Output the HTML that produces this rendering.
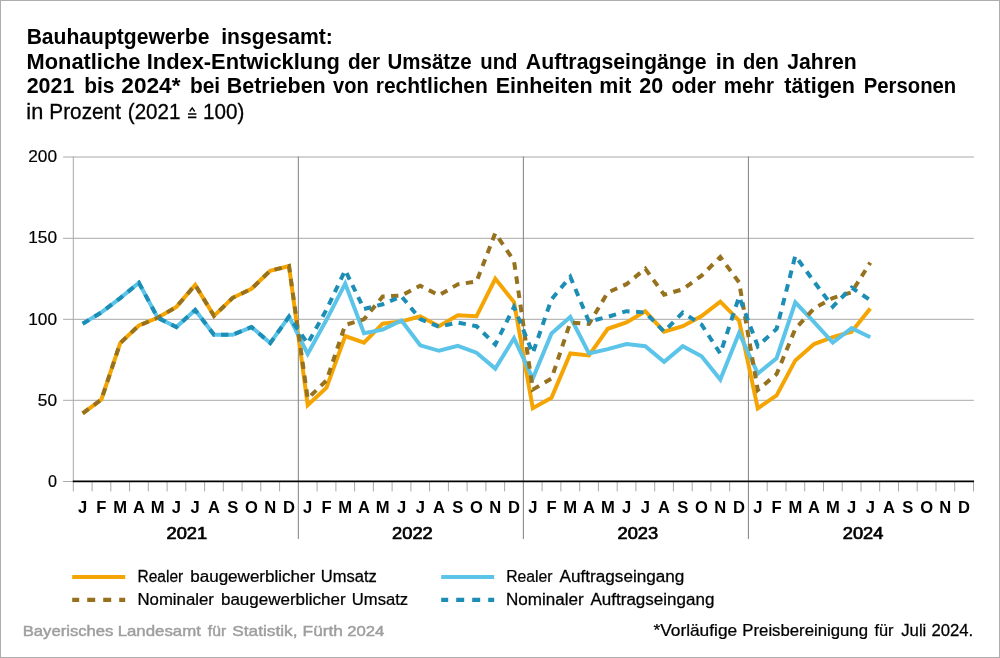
<!DOCTYPE html>
<html><head><meta charset="utf-8"><title>Bauhauptgewerbe</title>
<style>
html,body{margin:0;padding:0;background:#fff;}
body{width:1000px;height:658px;overflow:hidden;font-family:"Liberation Sans",sans-serif;}
svg{display:block;}
text{font-family:"Liberation Sans",sans-serif;}
text{filter:grayscale(1);}
.b{font-weight:bold;}
</style></head><body>
<svg width="1000" height="658" viewBox="0 0 1000 658">
<rect x="0" y="0" width="1000" height="658" fill="#fff"/>
<rect x="0.5" y="0.5" width="999" height="657" fill="none" stroke="#adadad" stroke-width="1"/>

<g font-size="21.8" font-weight="bold" >
<text transform="translate(26.63,43.7) scale(0.9680,1)">Bauhauptgewerbe</text>
<text transform="translate(221.23,43.7) scale(0.9709,1)">insgesamt:</text>
</g>
<g font-size="21.8" font-weight="bold" >
<text transform="translate(26.59,68.5) scale(1.0011,1)">Monatliche</text>
<text transform="translate(146.69,68.5) scale(1.0042,1)">Index-Entwicklung</text>
<text transform="translate(347.92,68.5) scale(0.9512,1)">der</text>
<text transform="translate(387.52,68.5) scale(0.9398,1)">Umsätze</text>
<text transform="translate(480.28,68.5) scale(0.9313,1)">und</text>
<text transform="translate(525.82,68.5) scale(0.9766,1)">Auftragseingänge</text>
<text transform="translate(715.69,68.5) scale(1.0007,1)">in</text>
<text transform="translate(742.94,68.5) scale(0.9232,1)">den</text>
<text transform="translate(787.29,68.5) scale(0.9722,1)">Jahren</text>
</g>
<g font-size="21.8" font-weight="bold" >
<text transform="translate(26.66,93.2) scale(0.9826,1)">2021</text>
<text transform="translate(84.24,93.2) scale(0.9609,1)">bis</text>
<text transform="translate(121.32,93.2) scale(1.0383,1)">2024*</text>
<text transform="translate(190.00,93.2) scale(0.9578,1)">bei</text>
<text transform="translate(226.71,93.2) scale(0.9856,1)">Betrieben</text>
<text transform="translate(333.00,93.2) scale(0.9217,1)">von</text>
<text transform="translate(375.74,93.2) scale(0.9633,1)">rechtlichen</text>
<text transform="translate(495.71,93.2) scale(0.9872,1)">Einheiten</text>
<text transform="translate(599.22,93.2) scale(0.9816,1)">mit</text>
<text transform="translate(639.35,93.2) scale(0.9866,1)">20</text>
<text transform="translate(671.38,93.2) scale(0.9485,1)">oder</text>
<text transform="translate(723.77,93.2) scale(0.9411,1)">mehr</text>
<text transform="translate(784.28,93.2) scale(0.9905,1)">tätigen</text>
<text transform="translate(863.78,93.2) scale(0.9306,1)">Personen</text>
</g>
<g font-size="21.4" font-weight="normal" stroke="#000" stroke-width="0.3">
<text transform="translate(26.30,119.1) scale(1.0162,1)">in</text>
<text transform="translate(49.34,119.1) scale(0.9711,1)">Prozent</text>
<text transform="translate(127.76,119.1) scale(0.9645,1)">(2021</text>
<text transform="translate(202.95,119.1) scale(0.9652,1)">100)</text>
</g>
<g font-size="15.6" font-weight="normal" stroke="#000" stroke-width="0.25">
<text transform="translate(137.51,581.8) scale(0.9943,1)">Realer</text>
<text transform="translate(190.23,581.8) scale(1.0919,1)">baugewerblicher</text>
<text transform="translate(320.84,581.8) scale(1.0605,1)">Umsatz</text>
</g>
<g font-size="15.6" font-weight="normal" stroke="#000" stroke-width="0.25">
<text transform="translate(137.41,604.6) scale(1.0770,1)">Nominaler</text>
<text transform="translate(220.98,604.6) scale(1.0897,1)">baugewerblicher</text>
<text transform="translate(351.84,604.6) scale(1.0654,1)">Umsatz</text>
</g>
<g font-size="15.6" font-weight="normal" stroke="#000" stroke-width="0.25">
<text transform="translate(506.14,581.8) scale(1.0112,1)">Realer</text>
<text transform="translate(559.60,581.8) scale(1.0990,1)">Auftragseingang</text>
</g>
<g font-size="15.6" font-weight="normal" stroke="#000" stroke-width="0.25">
<text transform="translate(506.03,604.6) scale(1.0942,1)">Nominaler</text>
<text transform="translate(590.50,604.6) scale(1.0910,1)">Auftragseingang</text>
</g>
<g font-size="15.7" font-weight="normal" stroke="#000" stroke-width="0.25">
<text transform="translate(653.43,635.9) scale(1.1035,1)">*Vorläufige</text>
<text transform="translate(742.36,635.9) scale(1.0667,1)">Preisbereinigung</text>
<text transform="translate(874.44,635.9) scale(1.0412,1)">für</text>
<text transform="translate(901.23,635.9) scale(1.0658,1)">Juli</text>
<text transform="translate(931.46,635.9) scale(1.0640,1)">2024.</text>
</g>
<g font-size="14.6" font-weight="normal" style="fill:#9e9e9e" stroke="#9e9e9e" stroke-width="0.45">
<text transform="translate(22.67,635.9) scale(1.1422,1)">Bayerisches</text>
<text transform="translate(117.65,635.9) scale(1.1533,1)">Landesamt</text>
<text transform="translate(207.84,635.9) scale(1.0777,1)">für</text>
<text transform="translate(232.31,635.9) scale(1.1819,1)">Statistik,</text>
<text transform="translate(302.62,635.9) scale(1.1842,1)">Fürth</text>
<text transform="translate(347.16,635.9) scale(1.1477,1)">2024</text>
</g>
<g stroke="#000" stroke-width="1.7" fill="none"><path d="M188 114.0H196.4M188 117.4H196.4"/><path d="M189.7 111.5L192.2 107.9L194.7 111.5" stroke-width="1.4"/></g>
<g stroke="#a8a8a8" stroke-width="1" fill="none">
<path d="M63.1 157.0H973.9"/>
<path d="M63.1 238.3H973.9"/>
<path d="M63.1 319.3H973.9"/>
<path d="M63.1 400.3H973.9"/>
<path d="M63.1 481.5H74"/>
<path d="M73.3 156.5V491.4"/>
<path d="M973.5 481.5V491.4"/>
</g>
<g stroke="#8c8c8c" stroke-width="1.1" fill="none">
<path d="M298.35 156.5V539"/>
<path d="M523.40 156.5V539"/>
<path d="M748.45 156.5V539"/>
</g>
<g stroke="#a8a8a8" stroke-width="1" fill="none"><path d="
M92.1 481.5V491.4
M110.8 481.5V491.4
M129.6 481.5V491.4
M148.3 481.5V491.4
M167.1 481.5V491.4
M185.8 481.5V491.4
M204.6 481.5V491.4
M223.3 481.5V491.4
M242.1 481.5V491.4
M260.8 481.5V491.4
M279.6 481.5V491.4
M317.1 481.5V491.4
M335.9 481.5V491.4
M354.6 481.5V491.4
M373.4 481.5V491.4
M392.1 481.5V491.4
M410.9 481.5V491.4
M429.6 481.5V491.4
M448.4 481.5V491.4
M467.1 481.5V491.4
M485.9 481.5V491.4
M504.6 481.5V491.4
M542.1 481.5V491.4
M560.9 481.5V491.4
M579.7 481.5V491.4
M598.4 481.5V491.4
M617.2 481.5V491.4
M635.9 481.5V491.4
M654.7 481.5V491.4
M673.4 481.5V491.4
M692.2 481.5V491.4
M710.9 481.5V491.4
M729.7 481.5V491.4
M767.2 481.5V491.4
M786.0 481.5V491.4
M804.7 481.5V491.4
M823.5 481.5V491.4
M842.2 481.5V491.4
M861.0 481.5V491.4
M879.7 481.5V491.4
M898.5 481.5V491.4
M917.2 481.5V491.4
M936.0 481.5V491.4
M954.7 481.5V491.4
"/></g>
<path d="M72.8 481.4H974" stroke="#000" stroke-width="1.6" fill="none"/>
<g font-size="16.2" stroke="#000" stroke-width="0.2">
<text x="28.2" y="162" textLength="28.8" lengthAdjust="spacingAndGlyphs">200</text>
<text x="28.2" y="243" textLength="28.8" lengthAdjust="spacingAndGlyphs">150</text>
<text x="28.2" y="325" textLength="28.8" lengthAdjust="spacingAndGlyphs">100</text>
<text x="37.8" y="406" textLength="19.2" lengthAdjust="spacingAndGlyphs">50</text>
<text x="48.0" y="487" textLength="9.0" lengthAdjust="spacingAndGlyphs">0</text>
</g>
<g class="b" font-size="15.8" text-anchor="middle">
<g transform="scale(1.05,1)">
<text x="78.74" y="512.8">J</text>
<text x="96.60" y="512.8">F</text>
<text x="114.46" y="512.8">M</text>
<text x="132.32" y="512.8">A</text>
<text x="150.18" y="512.8">M</text>
<text x="168.04" y="512.8">J</text>
<text x="185.91" y="512.8">J</text>
<text x="203.77" y="512.8">A</text>
<text x="221.63" y="512.8">S</text>
<text x="239.49" y="512.8">O</text>
<text x="257.35" y="512.8">N</text>
<text x="275.21" y="512.8">D</text>
<text x="293.07" y="512.8">J</text>
<text x="310.93" y="512.8">F</text>
<text x="328.79" y="512.8">M</text>
<text x="346.65" y="512.8">A</text>
<text x="364.52" y="512.8">M</text>
<text x="382.38" y="512.8">J</text>
<text x="400.24" y="512.8">J</text>
<text x="418.10" y="512.8">A</text>
<text x="435.96" y="512.8">S</text>
<text x="453.82" y="512.8">O</text>
<text x="471.68" y="512.8">N</text>
<text x="489.54" y="512.8">D</text>
<text x="507.40" y="512.8">J</text>
<text x="525.26" y="512.8">F</text>
<text x="543.12" y="512.8">M</text>
<text x="560.99" y="512.8">A</text>
<text x="578.85" y="512.8">M</text>
<text x="596.71" y="512.8">J</text>
<text x="614.57" y="512.8">J</text>
<text x="632.43" y="512.8">A</text>
<text x="650.29" y="512.8">S</text>
<text x="668.15" y="512.8">O</text>
<text x="686.01" y="512.8">N</text>
<text x="703.87" y="512.8">D</text>
<text x="721.73" y="512.8">J</text>
<text x="739.60" y="512.8">F</text>
<text x="757.46" y="512.8">M</text>
<text x="775.32" y="512.8">A</text>
<text x="793.18" y="512.8">M</text>
<text x="811.04" y="512.8">J</text>
<text x="828.90" y="512.8">J</text>
<text x="846.76" y="512.8">A</text>
<text x="864.62" y="512.8">S</text>
<text x="882.48" y="512.8">O</text>
<text x="900.34" y="512.8">N</text>
<text x="918.20" y="512.8">D</text>
</g>
<text x="186.8" y="538.8" textLength="40.6" lengthAdjust="spacingAndGlyphs" font-weight="normal" stroke="#000" stroke-width="0.65" stroke-linejoin="round">2021</text>
<text x="412.4" y="538.8" textLength="40.6" lengthAdjust="spacingAndGlyphs" font-weight="normal" stroke="#000" stroke-width="0.65" stroke-linejoin="round">2022</text>
<text x="637.8" y="538.8" textLength="40.6" lengthAdjust="spacingAndGlyphs" font-weight="normal" stroke="#000" stroke-width="0.65" stroke-linejoin="round">2023</text>
<text x="863.1" y="538.8" textLength="40.6" lengthAdjust="spacingAndGlyphs" font-weight="normal" stroke="#000" stroke-width="0.65" stroke-linejoin="round">2024</text>
</g>
<g fill="none" stroke-linejoin="miter" stroke-linecap="butt">
<polyline stroke="#f5a503" stroke-width="4" points="82.7,413.4 101.4,399.5 120.2,343.1 138.9,325.5 157.7,317.8 176.4,306.9 195.2,284.9 214.0,315.9 232.7,297.8 251.5,288.8 270.2,270.7 289.0,266.0 307.7,405.2 326.5,387.6 345.2,336.1 364.0,342.6 382.7,323.7 401.5,321.5 420.2,316.3 439.0,326.2 457.8,315.2 476.5,316.3 495.3,278.8 514.0,302.1 532.8,408.2 551.5,397.8 570.3,353.4 589.0,355.4 607.8,328.8 626.5,322.5 645.3,311.2 664.1,331.7 682.8,326.2 701.6,316.1 720.3,301.6 739.1,320.7 757.8,408.3 776.6,395.4 795.3,360.4 814.1,344.0 832.8,337.2 851.6,331.7 870.3,308.4"/>
<polyline stroke="#5bc4e8" stroke-width="4" points="82.7,323.7 101.4,312.4 120.2,298.1 138.9,282.8 157.7,317.8 176.4,327.0 195.2,310.0 214.0,334.8 232.7,334.8 251.5,327.1 270.2,343.1 289.0,316.7 307.7,353.9 326.5,319.8 345.2,283.6 364.0,333.3 382.7,329.6 401.5,320.5 420.2,345.3 439.0,350.8 457.8,345.9 476.5,352.7 495.3,368.6 514.0,338.2 532.8,378.6 551.5,333.5 570.3,317.0 589.0,353.4 607.8,349.1 626.5,344.0 645.3,346.2 664.1,361.8 682.8,346.2 701.6,356.3 720.3,379.6 739.1,333.0 757.8,373.6 776.6,358.2 795.3,302.4 814.1,322.1 832.8,342.6 851.6,328.1 870.3,337.2"/>
<polyline stroke="#96711e" stroke-width="4" stroke-linejoin="miter" stroke-dasharray="7.42 6.53 7.42 6.53 7.42 6.53 7.42 6.53 7.42 6.53 7.42 6.53 7.42 6.53 7.42 6.53 7.42 6.53 7.42 6.53 7.42 6.53 7.42 6.53 7.42 6.53 7.42 6.53 7.42 6.53 7.42 6.53 7.42 6.53 7.42 6.53 7.42 6.53 7.42 6.53 7.42 6.53 7.42 6.53 7.42 6.53 7.42 6.53 7.42 6.53 7.42 6.53 7.42 6.53 7.42 6.53 7.42 6.53 7.42 6.53 7.42 6.53 7.42 6.46 7.32 6.44 7.32 6.44 7.32 6.44 7.32 6.44 7.32 6.44 7.32 6.44 7.32 6.44 7.32 6.44 7.32 6.44 7.32 6.44 7.32 6.44 7.32 6.44 7.32 6.44 7.32 6.44 7.32 6.44 7.32 6.44 7.32 6.44 7.32 6.44 7.32 6.44 7.32 6.44 7.32 6.68 7.60 6.69 7.60 6.69 7.60 6.69 7.60 6.69 7.60 6.69 7.60 6.69 7.60 6.69 7.60 6.69 7.60 6.69 7.60 6.69 7.60 6.69 7.41 6.52 7.41 6.52 7.41 6.52 7.41 6.52 7.41 6.52 7.41 6.52 7.41 6.52 7.41 6.52 7.41 6.52 7.41 6.52 7.41 6.52 7.41 6.52 7.41 6.52 7.41 6.52 7.41 6.52 7.41 6.52 7.41 6.52 7.41 6.52 7.41 6.52 7.41 6.52 7.41 6.52 7.41 6.52 7.41 6.52 7.41 6.52 7.41 6.52 7.41 6.52 7.41 6.52 7.41 6.52 7.41 6.52 7.41 6.52 7.41 6.52 7.41 6.52 7.41 6.52 7.41 6.52 7.41 6.52 7.41 6.52 7.41 6.52 7.41 6.52 7.41 6.52 7.41 6.52 7.41 6.34 7.18 6.32 7.18 6.32 50.00 50.00" points="82.7,413.4 101.4,399.5 120.2,343.1 138.9,325.5 157.7,317.8 176.4,306.9 195.2,284.9 214.0,315.9 232.7,297.8 251.5,288.8 270.2,270.7 289.0,266.0 307.7,398.6 326.5,380.4 345.2,325.0 364.0,319.3 382.7,296.5 401.5,295.5 420.2,285.7 439.0,295.3 457.8,284.3 476.5,281.6 495.3,233.1 514.0,261.0 532.8,389.6 551.5,378.6 570.3,322.5 589.0,323.9 607.8,292.4 626.5,284.2 645.3,268.7 664.1,294.7 682.8,289.3 701.6,275.6 720.3,257.0 739.1,282.4 757.8,390.0 776.6,374.1 795.3,328.9 814.1,308.5 832.8,298.0 851.6,292.3 870.3,262.6"/>
<polyline stroke="#1c8db5" stroke-width="4" stroke-linejoin="miter" stroke-dasharray="7.36 6.48 7.36 6.48 7.36 6.48 7.36 6.48 7.36 6.48 7.36 6.48 7.36 6.48 7.36 6.48 7.36 6.48 7.36 6.48 7.36 6.48 7.36 6.48 7.36 6.48 7.36 6.48 7.36 6.48 7.36 6.48 7.36 6.48 7.36 6.48 7.36 6.48 7.36 6.48 7.37 6.50 7.39 6.50 7.39 6.48 7.32 6.44 7.32 6.44 7.32 6.44 7.32 6.44 7.32 6.44 7.32 6.33 7.07 6.22 7.07 6.22 7.07 6.22 7.23 6.37 7.23 6.37 7.23 6.37 7.23 6.37 7.23 6.37 7.34 6.48 7.36 6.48 7.36 6.48 7.36 6.48 7.36 6.48 7.36 6.48 7.36 6.48 7.36 6.48 7.36 6.48 7.36 6.48 7.36 6.48 7.36 6.48 7.36 6.49 7.40 6.51 7.40 6.51 7.40 6.51 7.40 6.51 7.40 6.51 7.40 6.51 7.44 6.55 7.44 6.55 7.44 6.55 7.44 6.55 7.44 6.55 7.44 6.55 7.44 6.55 7.44 6.55 7.44 6.55 7.44 6.55 7.44 6.55 7.44 6.55 7.44 6.55 7.44 6.55 7.44 6.55 7.44 6.70 7.63 6.71 7.63 6.71 7.63 6.71 7.63 6.67 7.54 6.64 7.54 6.64 7.54 6.64 7.54 6.64 7.54 6.64 7.54 6.64 7.54 6.64 7.54 6.64 7.54 6.64 7.54 6.64 7.54 6.54 7.42 6.53 7.42 6.53 7.42 6.53 7.42 6.53 7.42 6.53 7.42 6.53 7.42 6.53 7.42 50.00" points="82.7,323.7 101.4,312.4 120.2,298.1 138.9,282.8 157.7,317.8 176.4,327.0 195.2,310.0 214.0,334.8 232.7,334.8 251.5,327.1 270.2,343.1 289.0,316.7 307.7,343.5 326.5,309.6 345.2,270.3 364.0,309.0 382.7,304.3 401.5,296.3 420.2,319.1 439.0,326.7 457.8,322.6 476.5,326.2 495.3,344.5 514.0,307.0 532.8,353.2 551.5,299.3 570.3,276.8 589.0,321.7 607.8,316.8 626.5,311.2 645.3,312.5 664.1,331.7 682.8,312.5 701.6,324.6 720.3,353.6 739.1,296.6 757.8,346.2 776.6,328.9 795.3,255.8 814.1,281.8 832.8,306.6 851.6,287.6 870.3,300.2"/>
</g>
<g fill="none" stroke-width="4.2">
<path d="M72.2 577H125.2" stroke="#f5a503"/>
<path d="M72.2 599.8H125.2" stroke="#96711e" stroke-dasharray="8 8" stroke-dashoffset="1"/>
<path d="M441.2 577H494.2" stroke="#5bc4e8"/>
<path d="M441.2 599.8H494.2" stroke="#1c8db5" stroke-dasharray="8 8" stroke-dashoffset="1"/>
</g>
</svg></body></html>
